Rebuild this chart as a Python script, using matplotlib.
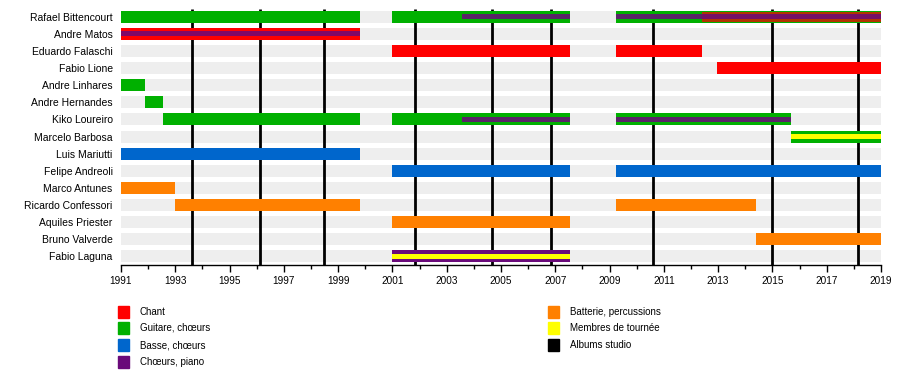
import matplotlib.pyplot as plt
from matplotlib.patches import Rectangle

plt.rcParams['font.family'] = ['Liberation Sans', 'DejaVu Sans']

members = ['Rafael Bittencourt', 'Andre Matos', 'Eduardo Falaschi', 'Fabio Lione',
           'Andre Linhares', 'Andre Hernandes', 'Kiko Loureiro', 'Marcelo Barbosa',
           'Luis Mariutti', 'Felipe Andreoli', 'Marco Antunes', 'Ricardo Confessori',
           'Aquiles Priester', 'Bruno Valverde', 'Fabio Laguna']

roles = ['Chant', 'Guitare, chœurs', 'Basse, chœurs', 'Chœurs, piano',
         'Batterie, percussions', 'Membres de tournée', 'Albums studio']
role_colors = ['#ff0000', '#00b000', '#0066cc', '#6a0a7a',
               '#ff8000', '#ffff00', '#000000']

# main bars
bar_member = ['Rafael Bittencourt', 'Rafael Bittencourt', 'Rafael Bittencourt',
              'Andre Matos', 'Eduardo Falaschi', 'Eduardo Falaschi', 'Fabio Lione',
              'Andre Linhares', 'Andre Hernandes',
              'Kiko Loureiro', 'Kiko Loureiro', 'Kiko Loureiro', 'Marcelo Barbosa',
              'Luis Mariutti', 'Felipe Andreoli', 'Felipe Andreoli',
              'Marco Antunes', 'Ricardo Confessori', 'Ricardo Confessori',
              'Aquiles Priester', 'Bruno Valverde', 'Fabio Laguna']
bar_start = [1991, 2001, 2009.24,
             1991, 2001, 2009.24, 2012.94,
             1991, 1991.9,
             1992.55, 2001, 2009.24, 2015.7,
             1991, 2001, 2009.24,
             1991, 1993.0, 2009.24,
             2001, 2014.38, 2001]
bar_end = [1999.8, 2007.54, 2019,
           1999.8, 2007.54, 2012.42, 2019,
           1991.9, 1992.55,
           1999.8, 2007.54, 2015.7, 2019,
           1999.8, 2007.54, 2019,
           1993.0, 1999.8, 2014.38,
           2007.54, 2019, 2007.54]
bar_role = ['Guitare, chœurs'] * 3 + ['Chant'] * 4 + ['Guitare, chœurs'] * 6 + \
           ['Basse, chœurs'] * 3 + ['Batterie, percussions'] * 5 + ['Chœurs, piano']

# second role drawn as a narrower layer
mid_member = ['Rafael Bittencourt']
mid_start = [2012.42]
mid_end = [2019]
mid_role = ['Chant']

# thin centre stripes
stripe_member = ['Rafael Bittencourt', 'Rafael Bittencourt', 'Andre Matos',
                 'Kiko Loureiro', 'Kiko Loureiro', 'Marcelo Barbosa', 'Fabio Laguna']
stripe_start = [2003.58, 2009.24, 1991, 2003.58, 2009.24, 2015.7, 2001]
stripe_end = [2007.54, 2019, 1999.8, 2007.54, 2015.7, 2019, 2007.54]
stripe_role = ['Chœurs, piano'] * 5 + ['Membres de tournée'] * 2

albums = [1993.62, 1996.12, 1998.48, 2001.83, 2004.68, 2006.84, 2010.61, 2014.99, 2018.17]

color_of = dict(zip(roles, role_colors))
row_of = {m: i for i, m in enumerate(members)}

fig = plt.figure(figsize=(9, 3.82), dpi=100)
ax = fig.add_axes([121 / 900, 1 - 265 / 382, 760 / 900, 256 / 382])

# gray background rows
ax.barh(range(len(members)), 2019 - 1991, left=1991, height=0.7,
        color='#eeeeee', zorder=1)

ax.vlines(albums, -0.45, 14.5, colors='black', linewidth=2, zorder=2)

for m, s, e, r in zip(bar_member, bar_start, bar_end, bar_role):
    ax.barh(row_of[m], e - s, left=s, height=0.7, color=color_of[r], zorder=3)
for m, s, e, r in zip(mid_member, mid_start, mid_end, mid_role):
    ax.barh(row_of[m], e - s, left=s, height=0.56, color=color_of[r],
            alpha=0.7, zorder=4)
for m, s, e, r in zip(stripe_member, stripe_start, stripe_end, stripe_role):
    ax.barh(row_of[m], e - s, left=s, height=0.28, color=color_of[r],
            alpha=0.85 if r == 'Chœurs, piano' else 1, zorder=5)

ax.set_xlim(1991, 2019)
ax.set_ylim(14.5, -0.45)
ax.set_yticks(range(len(members)))
ax.set_yticklabels(members, fontsize=7.5)
ax.tick_params(axis='y', length=0, pad=6)
ax.set_xticks(range(1991, 2020, 2))
ax.set_xticks(range(1991, 2020), minor=True)
ax.tick_params(axis='x', which='major', length=5, width=1, labelsize=7.2, pad=3)
ax.tick_params(axis='x', which='minor', length=3, width=1)
for side in ['top', 'right', 'left']:
    ax.spines[side].set_visible(False)
ax.spines['bottom'].set_linewidth(1)

# legend
legend_x = [118, 118, 118, 118, 548, 548, 548]
legend_y = [312, 328, 345, 362, 312, 328, 345]
for r, c, lx, ly in zip(roles, role_colors, legend_x, legend_y):
    fig.patches.append(Rectangle((lx / 900, 1 - (ly + 6) / 382), 11 / 900, 12 / 382,
                                 transform=fig.transFigure, color=c))
    fig.text((lx + 22) / 900, 1 - ly / 382, r, fontsize=7, va='center')

fig.savefig('out.png', dpi=100)
